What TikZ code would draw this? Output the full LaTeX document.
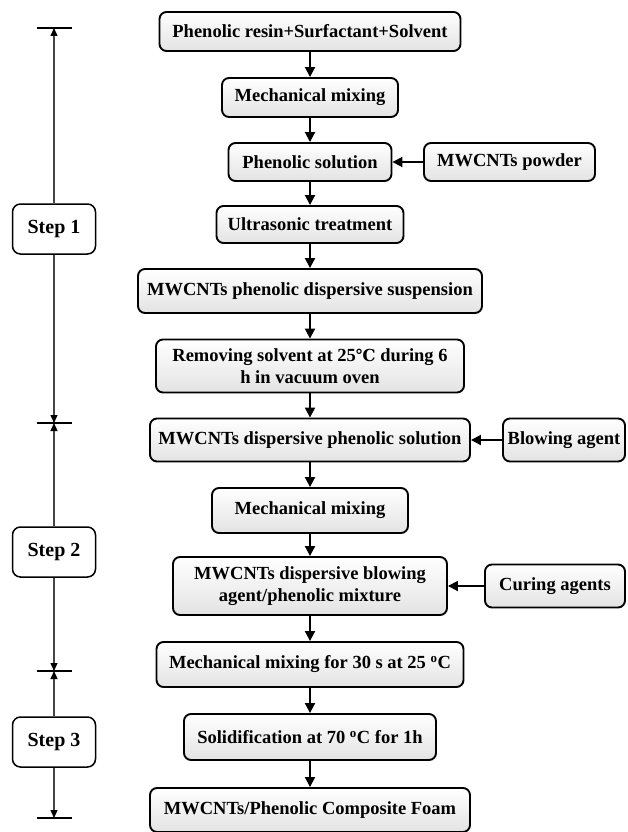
\documentclass[tikz,border=0pt]{standalone}
\usepackage{fontspec}
\setmainfont{Liberation Serif}
\newfontfamily\degfont{DejaVu Serif}
\usetikzlibrary{arrows.meta}

\tikzset{
  proc/.style={draw, line width=1.9pt, rounded corners=7pt, top color=white, bottom color=gray!22,
    align=center, inner sep=0pt, font=\bfseries\fontsize{18.5}{22}\selectfont},
  stepbox/.style={draw, line width=1.5pt, rounded corners=8pt, fill=white, minimum width=83pt,
    minimum height=50pt, inner sep=0pt, font=\bfseries\fontsize{20}{24}\selectfont},
  flow/.style={line width=1.9pt, -{Triangle[length=10pt,width=10pt]}},
  span/.style={line width=1.1pt, draw=gray!55!black, -{Triangle[length=8pt,width=7pt,color=black]}},
  bar/.style={line width=1.6pt},
}

\begin{document}
\begin{tikzpicture}[x=1pt, y=-1pt]
    \useasboundingbox (0,0) rectangle (627,832);

    % main column
    \node[proc, minimum width=301pt, minimum height=39pt] (mix0) at (310,31.5) {Phenolic resin+Surfactant+Solvent};
    \node[proc, minimum width=176pt, minimum height=39pt] (mech1) at (310,97.5) {Mechanical mixing};
    \node[proc, minimum width=163pt, minimum height=38pt] (sol) at (310,162) {Phenolic solution};
    \node[proc, minimum width=187pt, minimum height=37pt] (ultra) at (310,224.5) {Ultrasonic treatment};
    \node[proc, minimum width=344pt, minimum height=44pt] (susp) at (310,291) {MWCNTs phenolic dispersive suspension};
    \node[proc, minimum width=308pt, minimum height=53pt] (dry) at (310,366) {Removing solvent at 25{\degfont\fontsize{16.5}{22}\selectfont ℃} during 6\\h in vacuum oven};
    \node[proc, minimum width=320pt, minimum height=43pt] (dsol) at (310,440) {MWCNTs dispersive phenolic solution};
    \node[proc, minimum width=196pt, minimum height=45pt] (mech2) at (310,510.5) {Mechanical mixing};
    \node[proc, minimum width=274pt, minimum height=58pt] (blend) at (310,586) {MWCNTs dispersive blowing\\agent/phenolic mixture};
    \node[proc, minimum width=307pt, minimum height=45pt] (mech3) at (310,664.5) {Mechanical mixing for 30 s at 25 \textsuperscript{o}C};
    \node[proc, minimum width=252pt, minimum height=46pt] (cure) at (310,737) {Solidification at 70 \textsuperscript{o}C for 1h};
    \node[proc, minimum width=320pt, minimum height=44pt] (foam) at (310,810) {MWCNTs/Phenolic Composite Foam};

    % additives on the right
    \node[proc, minimum width=171pt, minimum height=38pt] (pow) at (509.5,162) {MWCNTs powder};
    \node[proc, minimum width=122pt, minimum height=43pt] (blow) at (564,440) {Blowing agent};
    \node[proc, minimum width=140pt, minimum height=43pt] (cag) at (555,586) {Curing agents};

    \foreach \a/\b in {mix0/mech1, mech1/sol, sol/ultra, ultra/susp, susp/dry, dry/dsol,
        dsol/mech2, mech2/blend, blend/mech3, mech3/cure, cure/foam} {
        \draw[flow] (\a) -- (\b);
    }
    \draw[flow] (pow) -- (sol);
    \draw[flow] (blow) -- (dsol);
    \draw[flow] (cag) -- (blend);

    % step timeline
    \coordinate (t0) at (54,28);
    \coordinate (t1) at (54,423);
    \coordinate (t2) at (54,671);
    \coordinate (t3) at (54,818);
    \foreach \t in {t0, t1, t2, t3} {
        \draw[bar] ([xshift=-17.5pt]\t) -- ([xshift=17.5pt]\t);
    }
    \node[stepbox] (s1) at (54,229) {Step 1};
    \node[stepbox] (s2) at (54,552) {Step 2};
    \node[stepbox] (s3) at (54,742) {Step 3};

    \draw[span] (s1) -- (t0);
    \draw[span] (s1) -- (t1);
    \draw[span] (s2) -- (t1);
    \draw[span] (s2) -- (t2);
    \draw[span] (s3) -- (t2);
    \draw[span] (s3) -- (t3);
\end{tikzpicture}
\end{document}
